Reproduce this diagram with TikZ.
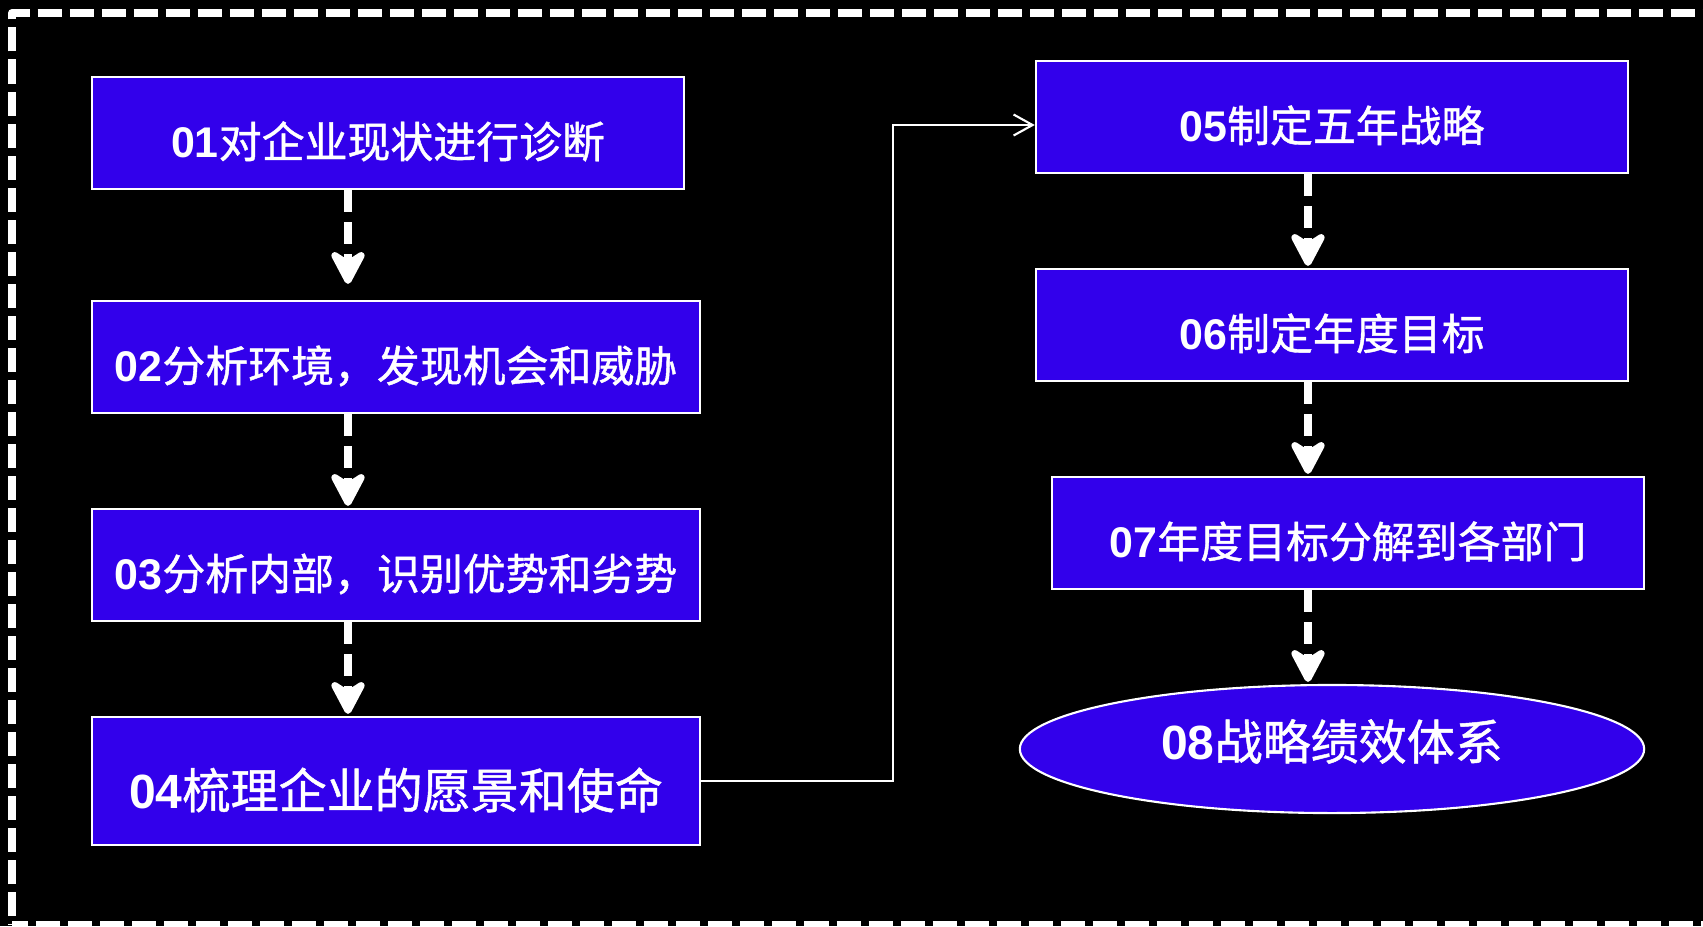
\documentclass[tikz,border=0pt]{standalone}
\usepackage{fontspec}
\setmainfont{Liberation Sans}
\newfontfamily\cjkf{Noto Sans CJK SC}[FakeBold=1]
\usetikzlibrary{arrows.meta,shapes.geometric}
\definecolor{boxblue}{RGB}{50,0,235}
\newcommand\lbl[2]{{\bfseries #1}{\cjkf #2}}
\begin{document}
\begin{tikzpicture}[x=0.01cm,y=-0.01cm,
  box/.style={draw=white, line width=0.6pt, fill=boxblue, text=white,
    minimum height=1.12cm, inner sep=0pt,
    font=\fontsize{12.2}{14}\selectfont, text height=1.45em, text depth=0.04em},
  bigbox/.style={box, minimum height=1.28cm, font=\fontsize{13.66}{16}\selectfont, text height=1.6em},
  flow/.style={white, line width=0.08cm, dash pattern=on 0.22cm off 0.1cm,
    -{Stealth[length=0.42cm,width=0.44cm,inset=0.14cm,round]}, shorten >=0.02cm},
  link/.style={white, line width=0.6pt, -{Straight Barb[length=0.19cm,width=0.21cm]}},
  frame/.style={white, line width=0.08cm, line join=round, dash pattern=on 0.24cm off 0.08cm}]
\useasboundingbox (0,0) rectangle (1703,926);
\fill[black] (0,0) rectangle (1703,926);
\clip (0,0) rectangle (1703,926);

\draw[frame, dash phase=0.23cm] (12,925) -- (12,13) -- (1720,13);
\draw[frame, dash phase=0.08cm] (12,925) -- (1720,925);

\node[box, minimum width=5.92cm] (b1) at (388,133) {\lbl{01}{对企业现状进行诊断}};
\node[box, minimum width=6.08cm] (b2) at (396,357) {\lbl{02}{分析环境，发现机会和威胁}};
\node[box, minimum width=6.08cm] (b3) at (396,565) {\lbl{03}{分析内部，识别优势和劣势}};
\node[bigbox, minimum width=6.08cm] (b4) at (396,781) {\lbl{04}{梳理企业的愿景和使命}};
\node[box, minimum width=5.92cm] (b5) at (1332,117) {\lbl{05}{制定五年战略}};
\node[box, minimum width=5.92cm] (b6) at (1332,325) {\lbl{06}{制定年度目标}};
\node[box, minimum width=5.92cm] (b7) at (1348,533) {\lbl{07}{年度目标分解到各部门}};
\node[bigbox, ellipse, minimum width=6.24cm, text height=0.85em, text depth=0.24em] (b8) at (1332,749) {\lbl{08}{战略绩效体系}};

\coordinate (lx) at (348,0);
\coordinate (rx) at (1308,0);
\coordinate (mx) at (893,0);

\draw[flow, shorten >=0.16cm] (b1.south -| lx) -- (b2.north -| lx);
\draw[flow] (b2.south -| lx) -- (b3.north -| lx);
\draw[flow] (b3.south -| lx) -- (b4.north -| lx);
\draw[flow] (b5.south -| rx) -- (b6.north -| rx);
\draw[flow] (b6.south -| rx) -- (b7.north -| rx);
\draw[flow] (b7.south -| rx) -- (b8.north -| rx);

\draw[link] (b4.east) -- (b4.east -| mx) |- ([yshift=-0.08cm]b5.west);
\end{tikzpicture}
\end{document}
